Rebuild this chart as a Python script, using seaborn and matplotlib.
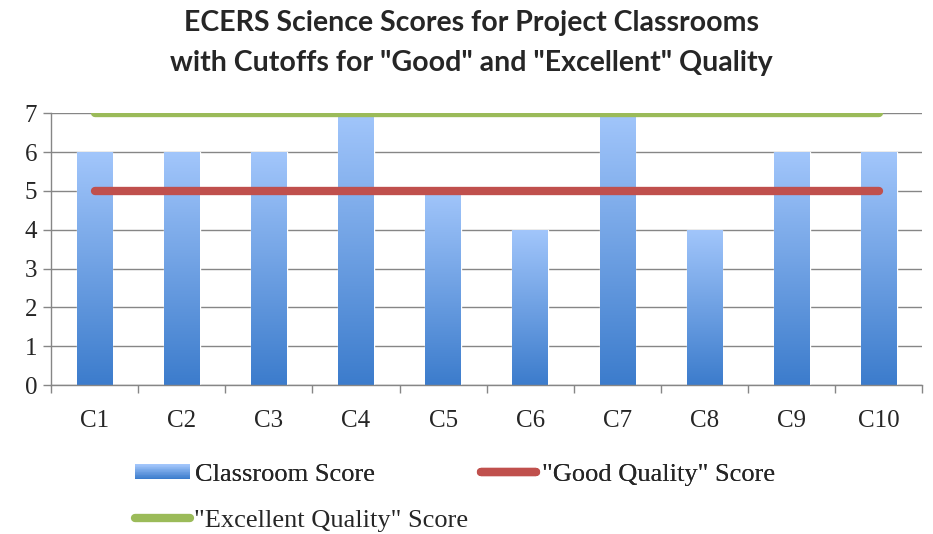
import numpy as np
import pandas as pd
import seaborn as sns
import matplotlib
matplotlib.use("Agg")
import matplotlib.pyplot as plt
from matplotlib.lines import Line2D
from matplotlib.patches import Rectangle
from matplotlib.legend_handler import HandlerBase
from matplotlib.colors import LinearSegmentedColormap

# data
classrooms = ["C1", "C2", "C3", "C4", "C5", "C6", "C7", "C8", "C9", "C10"]
scores = [6, 6, 6, 7, 5, 4, 7, 4, 6, 6]
good_cutoff = [5] * len(classrooms)
excellent_cutoff = [7] * len(classrooms)

sns.set_style("white")
plt.rcParams["font.family"] = ["Liberation Serif", "DejaVu Serif"]

bar_top = "#a2c6fb"
bar_bottom = "#3c7ccc"
red = "#c0504d"
green = "#9bbb59"
grey = "#868686"
grad_cmap = LinearSegmentedColormap.from_list("bars", [bar_bottom, bar_top])

df = pd.DataFrame({"classroom": classrooms, "score": scores})

fig = plt.figure(figsize=(9.33, 5.34), dpi=100)
ax = fig.add_axes([0.0547, 0.279, 0.934, 0.509])

sns.barplot(data=df, x="classroom", y="score", color=bar_top, width=0.41,
            ax=ax, zorder=2)

# vertical gradient fill clipped to each bar
grad = np.linspace(1, 0, 256).reshape(-1, 1)
for p in ax.patches:
    x0, w, h = p.get_x(), p.get_width(), p.get_height()
    im = ax.imshow(grad, extent=[x0, x0 + w, 0, h], aspect="auto",
                   cmap=grad_cmap, vmin=0, vmax=1, zorder=2.5)
    im.set_clip_path(p)

xpos = np.arange(len(classrooms))
ax.plot(xpos, good_cutoff, color=red, lw=6, solid_capstyle="round", zorder=3)
ax.plot(xpos, excellent_cutoff, color=green, lw=6, solid_capstyle="round",
        zorder=3)

ax.set_xlim(-0.5, len(classrooms) - 0.5)
ax.set_ylim(0, 7)
ax.set_yticks(range(0, 8))
ax.grid(axis="y", color=grey, lw=1, zorder=0)
ax.set_axisbelow(True)
ax.set_xlabel("")
ax.set_ylabel("")

for s in ["top", "right"]:
    ax.spines[s].set_visible(False)
for s in ["left", "bottom"]:
    ax.spines[s].set_color(grey)
    ax.spines[s].set_linewidth(1)

ax.set_xticks(xpos)
ax.set_xticklabels(classrooms)
ax.set_xticks(np.arange(-0.5, len(classrooms)), minor=True)
ax.tick_params(axis="x", which="major", length=0, pad=18, labelsize=18,
               bottom=True)
ax.tick_params(axis="x", which="minor", length=6, color=grey, width=1,
               direction="out", bottom=True)
ax.tick_params(axis="y", length=6, color=grey, width=1, direction="out",
               labelsize=18, pad=4, left=True)

fig.text(0.505, 0.957, "ECERS Science Scores for Project Classrooms",
         ha="center", va="center", fontsize=20.5, fontweight="bold",
         family=["Lato", "DejaVu Sans"])
fig.text(0.505, 0.882, 'with Cutoffs for "Good" and "Excellent" Quality',
         ha="center", va="center", fontsize=20.5, fontweight="bold",
         family=["Lato", "DejaVu Sans"])


class GradientHandler(HandlerBase):
    def create_artists(self, legend, orig_handle, xdescent, ydescent,
                       width, height, fontsize, trans):
        n = 20
        arts = []
        h = height * 0.8
        y0 = -ydescent + (height - h) / 2
        for i in range(n):
            c = grad_cmap(i / (n - 1))
            r = Rectangle((-xdescent, y0 + h * i / n), width, h / n + 0.2,
                          facecolor=c, edgecolor="none", transform=trans)
            arts.append(r)
        return arts


bar_handle = Rectangle((0, 0), 1, 1)
good_handle = Line2D([], [], color=red, lw=6, solid_capstyle="round")
exc_handle = Line2D([], [], color=green, lw=6, solid_capstyle="round")

leg1 = fig.legend([bar_handle, good_handle],
                  ["Classroom Score", '"Good Quality" Score'],
                  handler_map={Rectangle: GradientHandler()},
                  loc="center left", bbox_to_anchor=(0.133, 0.112), ncol=2,
                  frameon=False, fontsize=19, handlelength=2.1,
                  handletextpad=0.2, columnspacing=4.0, borderaxespad=0)
fig.add_artist(leg1)
fig.legend([exc_handle], ['"Excellent Quality" Score'],
           loc="center left", bbox_to_anchor=(0.133, 0.026),
           frameon=False, fontsize=19, handlelength=2.1,
           handletextpad=0.15, borderaxespad=0)

fig.savefig("out.png", dpi=100)
